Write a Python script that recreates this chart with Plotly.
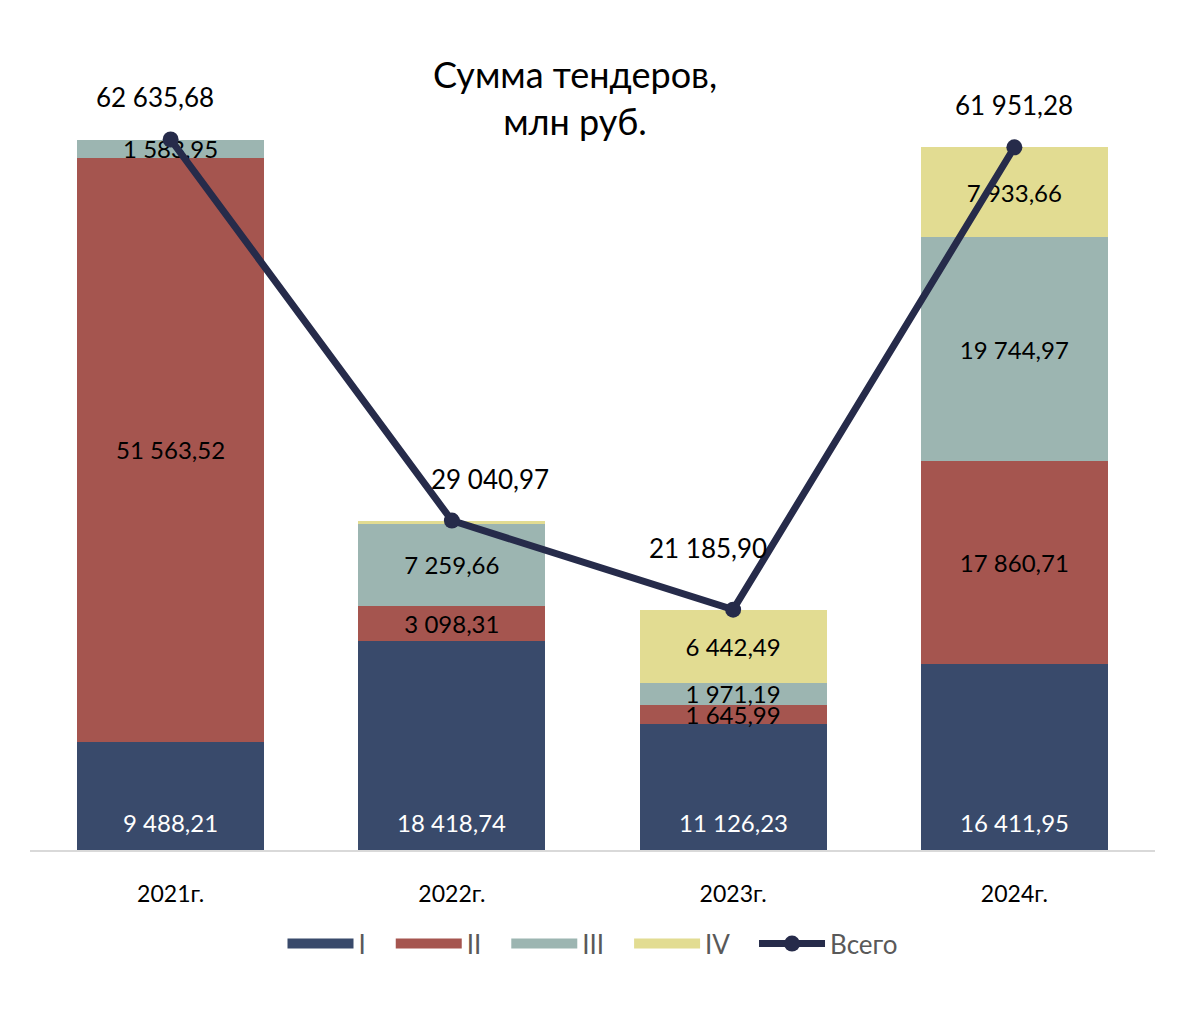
import plotly.graph_objects as go

years = ["2021г.", "2022г.", "2023г.", "2024г."]
s1 = [9488.21, 18418.74, 11126.23, 16411.95]
s2 = [51563.52, 3098.31, 1645.99, 17860.71]
s3 = [1583.95, 7259.66, 1971.19, 19744.97]
s4 = [0.0, 264.26, 6442.49, 7933.66]
totals = [62635.68, 29040.97, 21185.90, 61951.28]
series_names = ["I", "II", "III", "IV"]
colors = ["#394A6B", "#A5554F", "#9CB5B1", "#E2DC92"]
line_color = "#262B4A"
FONT = "Lato"

def fmt(v):
    s = f"{v:,.2f}"
    return s.replace(",", " ").replace(".", ",")

fig = go.Figure()
for name, vals, col in zip(series_names, [s1, s2, s3, s4], colors):
    if name == "I":
        txt = ["" for v in vals]
    else:
        txt = [fmt(v) if v > 1000 else "" for v in vals]
    fig.add_trace(go.Bar(
        x=years, y=vals, name=name, marker=dict(color=col, line=dict(width=0)),
        text=txt, texttemplate="%{text}", textposition="inside",
        insidetextanchor="middle", textangle=0,
        textfont=dict(family=FONT, size=24, color="black"),
        hoverinfo="skip", showlegend=False, legendgroup=name,
    ))

# legend entries with wide swatches
pad = "\u00a0" * 3
for name, col in zip(series_names, colors):
    fig.add_trace(go.Scatter(
        x=[None], y=[None], name=name + pad, mode="lines", legendgroup=name,
        line=dict(color=col, width=15), hoverinfo="skip",
    ))

fig.add_trace(go.Scatter(
    x=years, y=totals, name="Всего", mode="lines+markers",
    line=dict(color=line_color, width=7), marker=dict(color=line_color, size=16),
    hoverinfo="skip",
))

# series I labels at base of bars
for yr, v in zip(years, s1):
    fig.add_annotation(x=yr, y=0, text=fmt(v), showarrow=False, yshift=28,
                       yanchor="middle",
                       font=dict(family=FONT, size=24, color="white"))

shifts = [(-16, 43), (38, 42), (-25, 62), (0, 42)]
for yr, t, (dx, dy) in zip(years, totals, shifts):
    fig.add_annotation(x=yr, y=t, text=fmt(t), showarrow=False,
                       xshift=dx, yshift=dy,
                       font=dict(family=FONT, size=26, color="black"))

fig.update_layout(
    width=1188, height=1012,
    barmode="stack", bargap=0.335,
    paper_bgcolor="white", plot_bgcolor="white",
    margin=dict(l=30, r=33, t=56, b=162),
    title=dict(text="Сумма тендеров,<br>млн руб.", x=575/1188, xanchor="center",
               y=1-88/1012, yanchor="middle",
               font=dict(family=FONT, size=36, color="black")),
    uniformtext=dict(minsize=24, mode="show"),
    showlegend=True,
    legend=dict(orientation="h", x=0.5, xanchor="center", y=-0.118, yanchor="middle",
                font=dict(family=FONT, size=26, color="#595959"), itemwidth=66,
                traceorder="normal"),
    font=dict(family=FONT),
)
fig.update_xaxes(showline=True, linecolor="#D9D9D9", linewidth=2, ticks="",
                 tickfont=dict(family=FONT, size=23, color="black"),
                 ticklabelstandoff=22, showgrid=False)
fig.update_yaxes(range=[0, 70000], visible=False, showgrid=False)

fig.write_html("out.html")
